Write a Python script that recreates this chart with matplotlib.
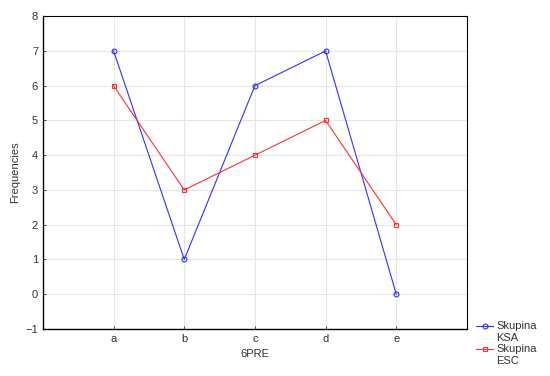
import matplotlib
matplotlib.use("Agg")
import matplotlib.pyplot as plt
import numpy as np
from matplotlib.legend_handler import HandlerLine2D

categories = ["a", "b", "c", "d", "e"]
ksa = [7, 1, 6, 7, 0]
esc = [6, 3, 4, 5, 2]
series_labels = ["Skupina\nKSA", "Skupina\nESC"]
yticks = [-1, 0, 1, 2, 3, 4, 5, 6, 7, 8]


class UpHandler(HandlerLine2D):
    def __init__(self, dy, **kw):
        super().__init__(**kw)
        self.dy = dy

    def create_artists(self, legend, orig_handle, xdescent, ydescent, width, height, fontsize, trans):
        arts = super().create_artists(legend, orig_handle, xdescent, ydescent, width, height, fontsize, trans)
        for a in arts:
            a.set_ydata(np.asarray(a.get_ydata(), dtype=float) + self.dy)
        return arts


plt.rcParams['font.family'] = ['Liberation Sans', 'DejaVu Sans']
fig = plt.figure(figsize=(5.5, 3.76), dpi=100)
ax = fig.add_axes([0.078, 0.125, 0.771, 0.832])
x = list(range(len(categories)))
l1, = ax.plot(x, ksa, color="#3030ff", lw=0.8, marker="o", ms=3.5, mfc="none", mec="#3030ff", mew=0.8, label=series_labels[0])
l2, = ax.plot(x, esc, color="#ff3030", lw=0.8, marker="s", ms=3.5, mfc="none", mec="#ff3030", mew=0.8, label=series_labels[1])
ax.set_xlim(-1, 5)
ax.set_ylim(-1, 8)
ax.set_xticks(x)
ax.set_xticklabels(categories)
ax.set_yticks(yticks)
ax.grid(True, color="#e6e6e6", lw=0.8)
ax.set_axisbelow(True)
ax.tick_params(labelsize=8, colors="#333333", length=2, direction="in", width=0.6)
ax.set_xlabel("6PRE", fontsize=8, color="#333333")
ax.set_ylabel("Frequencies", fontsize=8, color="#333333")
for s in ["left", "bottom"]:
    ax.spines[s].set_linewidth(1.0)
for s in ["top", "right"]:
    ax.spines[s].set_linewidth(0.8)
leg = ax.legend(handles=[l1, l2], loc="upper left", bbox_to_anchor=(1.012, 0.04), frameon=False, fontsize=8,
                handlelength=1.5, handletextpad=0.3, labelspacing=0.15, borderaxespad=0,
                handler_map={l1: UpHandler(4.5), l2: UpHandler(4.5)})
for t in leg.get_texts():
    t.set_color("#333333")
fig.savefig("out.png", dpi=100)
